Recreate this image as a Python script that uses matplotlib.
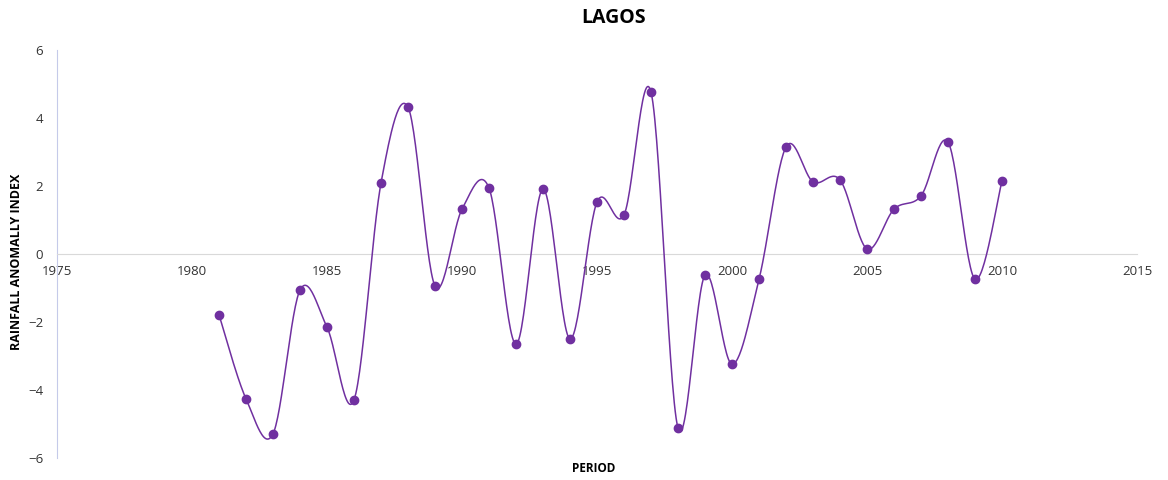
import matplotlib.pyplot as plt
import numpy as np

plt.rcParams['font.family'] = ['Open Sans', 'DejaVu Sans']

years = list(range(1981, 2011))
rai = [-1.79, -4.26, -5.29, -1.06, -2.15, -4.29, 2.09, 4.32, -0.94, 1.32,
       1.94, -2.65, 1.91, -2.50, 1.53, 1.15, 4.76, -5.12, -0.62, -3.24,
       -0.74, 3.15, 2.12, 2.18, 0.15, 1.32, 1.71, 3.29, -0.74, 2.15]

x_ticks = [1975, 1980, 1985, 1990, 1995, 2000, 2005, 2010, 2015]
y_ticks = [-6, -4, -2, 0, 2, 4, 6]

PURPLE = '#7030A0'


def smooth_line(x, y, steps=30):
    """Excel-style smoothed line: Bezier segments with Catmull-Rom control points"""
    x = np.asarray(x, float)
    y = np.asarray(y, float)
    px = np.concatenate([[x[0]], x, [x[-1]]])
    py = np.concatenate([[y[0]], y, [y[-1]]])
    t = np.linspace(0, 1, steps)[:, None]
    xs, ys = [], []
    for i in range(1, len(px) - 2):
        p0 = np.array([px[i], py[i]])
        p3 = np.array([px[i + 1], py[i + 1]])
        p1 = p0 + (p3 - np.array([px[i - 1], py[i - 1]])) / 6
        p2 = p3 - (np.array([px[i + 2], py[i + 2]]) - p0) / 6
        b = (1 - t) ** 3 * p0 + 3 * (1 - t) ** 2 * t * p1 + 3 * (1 - t) * t ** 2 * p2 + t ** 3 * p3
        xs.append(b[:, 0])
        ys.append(b[:, 1])
    return np.concatenate(xs), np.concatenate(ys)


fig = plt.figure(figsize=(11.68, 4.8), dpi=100)
ax = fig.add_axes([0.0488, 0.0458, 0.9247, 0.85])

sx, sy = smooth_line(years, rai)
ax.plot(sx, sy, color=PURPLE, lw=1.1, zorder=3)
ax.plot(years, rai, 'o', color=PURPLE, ms=6, zorder=4)

ax.set_xlim(1975, 2015)
ax.set_ylim(-6, 6)
ax.set_xticks(x_ticks)
ax.set_yticks(y_ticks)

for s in ['top', 'right']:
    ax.spines[s].set_visible(False)
ax.spines['bottom'].set_position(('data', 0))
ax.spines['bottom'].set_color('#d9d9d9')
ax.spines['left'].set_color('#c5cae9')
ax.tick_params(length=0, labelsize=9.5, colors='#333333')
ax.tick_params(axis='x', pad=8)
ax.tick_params(axis='y', pad=10)

fig.text(0.525, 0.962, 'LAGOS', ha='center', va='center', fontsize=14, fontweight='bold')
fig.text(0.508, 0.025, 'PERIOD', ha='center', va='center', fontsize=8.5, fontweight='bold')
fig.text(0.014, 0.455, 'RAINFALL ANOMALLY INDEX', ha='center', va='center', rotation=90,
         fontsize=9, fontweight='bold')

fig.savefig('out.png', dpi=100)
